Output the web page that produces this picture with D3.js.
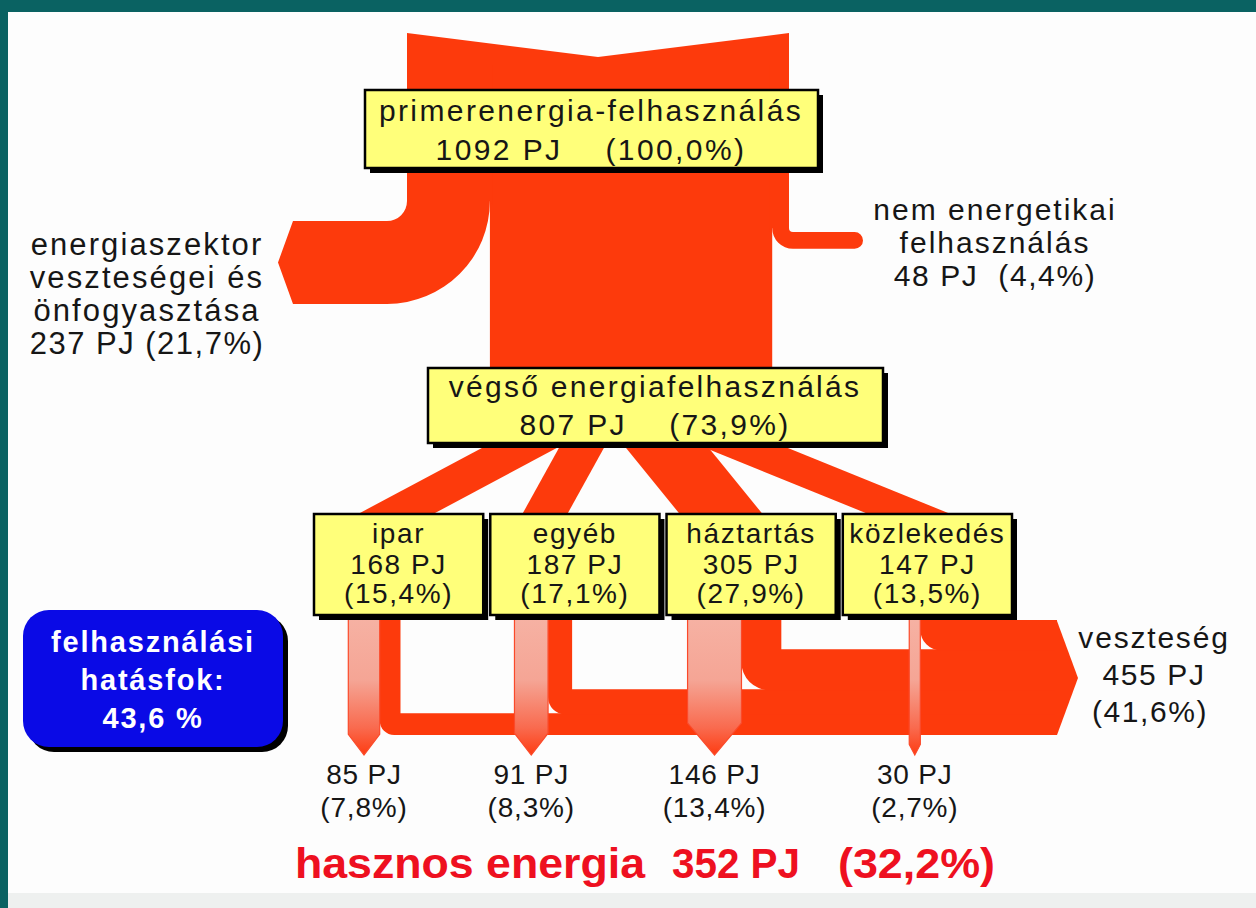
<!DOCTYPE html>
<html>
<head>
<meta charset="utf-8">
<script src="https://cdn.jsdelivr.net/npm/d3@7"></script>
<style>
  body { margin: 0; background: #fdfdfd; }
  svg { display: block; }
  text { font-family: "Liberation Sans", Arial, sans-serif; fill: #161616; }
</style>
</head>
<body>
<script>
//////////////////
// Data
//////////////////

// Primary energy and how it splits before final consumption
var primaryPJ = 1092, primaryPct = "100,0%";
var sectorLossPJ = 237, sectorLossPct = "21,7%";
var nonEnergyPJ = 48, nonEnergyPct = "4,4%";
var finalPJ = 807, finalPct = "73,9%";

// Final consumption by sector
var sectors = ["ipar", "egyéb", "háztartás", "közlekedés"];
var sectorPJ = [168, 187, 305, 147];
var sectorPct = ["15,4%", "17,1%", "27,9%", "13,5%"];

// Useful energy by sector
var usefulPJ = [85, 91, 146, 30];
var usefulPct = ["7,8%", "8,3%", "13,4%", "2,7%"];

// Totals
var lossTotalPJ = 455, lossTotalPct = "41,6%";
var usefulTotalPJ = 352, usefulTotalPct = "32,2%";
var efficiency = "43,6 %";

// loss per sector = what goes in minus what is useful
var lossPJ = sectorPJ.map(function(v, i) { return v - usefulPJ[i]; });

////////////////
// Layout
////////////////

var W = 1256, H = 908;
var red = "#fd3a0c", yellow = "#ffff7a", teal = "#0a6262";

var svg = d3.select("body").append("svg")
    .attr("width", W)
    .attr("height", H);

var defs = svg.append("defs");
var grad = defs.append("linearGradient")
    .attr("id", "useful").attr("x1", 0).attr("y1", 0).attr("x2", 0).attr("y2", 1);
grad.append("stop").attr("offset", "0%").attr("stop-color", "#f6b4a6");
grad.append("stop").attr("offset", "50%").attr("stop-color", "#f5a595");
grad.append("stop").attr("offset", "82%").attr("stop-color", "#f96a4e");
grad.append("stop").attr("offset", "100%").attr("stop-color", "#fe3c12");

// frame
svg.append("rect").attr("width", W).attr("height", H).attr("fill", "#fdfdfd");
svg.append("rect").attr("x", 0).attr("y", H - 15).attr("width", W).attr("height", 15).attr("fill", "#eef0ef");
svg.append("rect").attr("x", 0).attr("y", 0).attr("width", W).attr("height", 12).attr("fill", teal);
svg.append("rect").attr("x", 0).attr("y", 0).attr("width", 8).attr("height", H).attr("fill", teal);

// Scales: widths of the flows (the drawing is not fully to scale, so the
// upper trunk, the fan, the losses and the useful arrows each get their own)
var wTop = d3.scaleLinear().domain([0, primaryPJ]).range([0, 382]);
var wFan = d3.scaleLinear().domain([0, finalPJ]).range([0, 170]);
var wLow = d3.scaleLinear().domain([0, lossTotalPJ]).range([0, 114]);
var wUse = d3.scaleLinear().domain([0, usefulTotalPJ]).range([0, 130]);

var col = d3.scaleBand().domain(sectors).range([314, 1012]).paddingInner(0.04);

var flows = svg.append("g").attr("fill", red);

//////////////
// Upper trunk
//////////////

var x0 = 407, yTop = 33, notch = 24;
var x1 = x0 + wTop(primaryPJ);
var xA = x0 + wTop(sectorLossPJ);          // left edge of final trunk
var xB = xA + wTop(finalPJ);               // right edge of final trunk
var trunkStart = yTop + notch + 8;

// notched top
flows.append("path").attr("d",
    "M" + x0 + "," + yTop + "L" + ((x0 + x1) / 2) + "," + (yTop + notch) +
    "L" + x1 + "," + yTop + "L" + x1 + "," + (trunkStart + 20) + "L" + x0 + "," + (trunkStart + 20) + "Z");

// final trunk down to the box
flows.append("rect")
    .attr("x", xA).attr("y", trunkStart)
    .attr("width", xB - xA).attr("height", 430 - trunkStart);

// energy sector losses: bends to the left, ends in a point
// (the path reaches 3px into the trunk so no seam shows)
var t = wTop(sectorLossPJ), yL = 221, ri = 20;
var cx = x0 - ri, cy = yL - ri, ro = ri + t;
flows.append("path").attr("d",
    "M" + x0 + "," + trunkStart + "L" + x0 + "," + cy +
    "A" + ri + "," + ri + " 0 0 1 " + cx + "," + yL +
    "L293," + yL + "L278," + (yL + t / 2) + "L293," + (yL + t) +
    "L" + cx + "," + (yL + t) +
    "A" + ro + "," + ro + " 0 0 0 " + xA + "," + cy +
    "L" + (xA + 3) + "," + (cy + 4) + "L" + (xA + 3) + "," + trunkStart + "Z");

// non-energy use: bends to the right, rounded end
var tn = wTop(nonEnergyPJ), yN = 232, rn = 4;
var cxn = x1 + rn, cyn = yN - rn, endX = 863;
flows.append("path").attr("d",
    "M" + x1 + "," + trunkStart + "L" + x1 + "," + cyn +
    "A" + rn + "," + rn + " 0 0 0 " + cxn + "," + yN +
    "L" + (endX - tn / 2) + "," + yN +
    "A" + (tn / 2) + "," + (tn / 2) + " 0 0 1 " + (endX - tn / 2) + "," + (yN + tn) +
    "L" + cxn + "," + (yN + tn) +
    "A" + (rn + tn) + "," + (rn + tn) + " 0 0 1 " + xB + "," + cyn +
    "L" + (xB - 3) + "," + (cyn + 4) + "L" + (xB - 3) + "," + trunkStart + "Z");

//////////////
// Fan to sectors
//////////////

var fanTop = 448, fanBot = 514;
var fanEndOffset = [-3, -30, -30, -18];
var acc = xA;
sectors.forEach(function(s, i) {
    var seg = wTop(sectorPJ[i]);
    var sx = acc + seg / 2;
    acc += seg;
    var ex = col(s) + col.bandwidth() / 2 + fanEndOffset[i];
    var dx = ex - sx, dy = fanBot - fanTop;
    var k1 = 33 / dy, k2 = 31 / dy;
    flows.append("line")
        .attr("x1", sx - dx * k1).attr("y1", fanTop - 33)
        .attr("x2", ex + dx * k2).attr("y2", fanBot + 31)
        .attr("stroke", red)
        .attr("stroke-width", wFan(sectorPJ[i]));
});

//////////////
// Losses and useful energy
//////////////

var lossTop = 621, arrowBase = 1057, arrowTip = 1078, tipY = 755;
var usefulOffset = [50, 41, 48, 72];

// stack the loss layers: közlekedés on top, ipar at the bottom
var layerY = [];
var yy = lossTop;
for (var i = sectors.length - 1; i >= 0; i--) {
    layerY[i] = yy;
    yy += wLow(lossPJ[i]);
}
var lossBottom = yy;

var usefulX = sectors.map(function(s, i) { return col(s) + usefulOffset[i]; });

sectors.forEach(function(s, i) {
    var u = wUse(usefulPJ[i]);
    var tl = wLow(lossPJ[i]);
    var vx = usefulX[i] + u / 2;
    var ly = layerY[i];
    var r = tl * 0.7;
    flows.append("path").attr("d",
        "M" + vx + ",600L" + vx + "," + (ly + tl - r) +
        "A" + r + "," + r + " 0 0 0 " + (vx + r) + "," + (ly + tl) +
        "L" + arrowBase + "," + (ly + tl) + "L" + arrowBase + "," + (ly - 1) +
        "L" + (vx + tl) + "," + (ly - 1) + "L" + (vx + tl) + ",600Z");
});

// the big loss arrow head
flows.append("path").attr("d",
    "M" + (arrowBase - 2) + "," + lossTop + "L" + arrowBase + "," + lossTop +
    "L" + arrowTip + "," + ((lossTop + lossBottom) / 2) +
    "L" + arrowBase + "," + lossBottom + "L" + (arrowBase - 2) + "," + lossBottom + "Z");

// useful energy arrows
sectors.forEach(function(s, i) {
    var u = wUse(usefulPJ[i]);
    var c = usefulX[i];
    var tipLen = u / 2 + 5;
    svg.append("path")
        .attr("d", "M" + (c - u / 2) + ",605L" + (c - u / 2) + "," + (tipY - tipLen) +
            "L" + c + "," + tipY + "L" + (c + u / 2) + "," + (tipY - tipLen) +
            "L" + (c + u / 2) + ",605Z")
        .attr("fill", "url(#useful)")
        .attr("stroke", "#fb4a2a")
        .attr("stroke-width", 1.2);
});

//////////////
// Boxes
//////////////

function box(x, y, w, h) {
    svg.append("rect").attr("x", x + 5).attr("y", y + 5).attr("width", w).attr("height", h).attr("fill", "#000");
    svg.append("rect").attr("x", x).attr("y", y).attr("width", w).attr("height", h)
        .attr("fill", yellow).attr("stroke", "#000").attr("stroke-width", 2.5);
}

function label(x, y, str, size, opts) {
    opts = opts || {};
    var tx = svg.append("text")
        .attr("x", x).attr("y", y)
        .attr("text-anchor", opts.anchor || "middle")
        .attr("font-size", size)
        .attr("letter-spacing", opts.ls == null ? 1.5 : opts.ls)
        .style("white-space", "pre")
        .text(str);
    if (opts.bold) tx.attr("font-weight", "bold");
    if (opts.fill) tx.style("fill", opts.fill);
    if (opts.len) tx.attr("textLength", opts.len).attr("lengthAdjust", "spacingAndGlyphs");
    return tx;
}

box(365, 90, 453, 78);
label(591, 121, "primerenergia-felhasználás", 30, {ls: 2.4});
label(591, 160, primaryPJ + " PJ    (" + primaryPct + ")", 30, {ls: 2.4});

box(428, 368, 455, 75);
label(655, 397, "végső energiafelhasználás", 30, {ls: 2.3});
label(655, 435, finalPJ + " PJ    (" + finalPct + ")", 30, {ls: 2.3});

sectors.forEach(function(s, i) {
    var bx = col(s), bw = col.bandwidth();
    box(bx, 514, bw, 101);
    label(bx + bw / 2, 543, s, 28, {ls: 1.6});
    label(bx + bw / 2, 574, sectorPJ[i] + " PJ", 28, {ls: 1.6});
    label(bx + bw / 2, 603, "(" + sectorPct[i] + ")", 28, {ls: 1.6});
});

// side labels
label(147, 255, "energiaszektor", 31, {ls: 2.1});
label(147, 288, "veszteségei és", 31, {ls: 2.1});
label(147, 321, "önfogyasztása", 31, {ls: 2.1});
label(147, 354, sectorLossPJ + " PJ (" + sectorLossPct + ")", 31, {ls: 1.5});

label(995, 220, "nem energetikai", 30, {ls: 2});
label(995, 253, "felhasználás", 30, {ls: 2});
label(995, 286, nonEnergyPJ + " PJ  (" + nonEnergyPct + ")", 30, {ls: 1.6});

label(1154, 648, "veszteség", 30, {ls: 1.8});
label(1154, 685, lossTotalPJ + " PJ", 30, {ls: 1.6});
label(1150, 722, "(" + lossTotalPct + ")", 30, {ls: 1.6});

// useful energy labels under the arrows
sectors.forEach(function(s, i) {
    label(usefulX[i], 784, usefulPJ[i] + " PJ", 28, {ls: 0.8});
    label(usefulX[i], 817, "(" + usefulPct[i] + ")", 28, {ls: 0.8});
});

// efficiency badge
svg.append("rect").attr("x", 28).attr("y", 615).attr("width", 260).attr("height", 137)
    .attr("rx", 26).attr("fill", "#000");
svg.append("rect").attr("x", 23).attr("y", 610).attr("width", 260).attr("height", 137)
    .attr("rx", 26).attr("fill", "#0a0ae6");
label(153, 652, "felhasználási", 29, {bold: true, fill: "#fff", ls: 1.8});
label(153, 690, "hatásfok:", 29, {bold: true, fill: "#fff", ls: 1.8});
label(153, 728, efficiency, 29, {bold: true, fill: "#fff", ls: 1.8});

// useful energy total
var hRed = "#ee1020";
label(295, 878, "hasznos energia", 43, {bold: true, fill: hRed, anchor: "start", ls: 0, len: 350});
label(672, 878, usefulTotalPJ + " PJ", 43, {bold: true, fill: hRed, anchor: "start", ls: 0, len: 128});
label(838, 878, "(" + usefulTotalPct + ")", 43, {bold: true, fill: hRed, anchor: "start", ls: 0, len: 157});
</script>
</body>
</html>
